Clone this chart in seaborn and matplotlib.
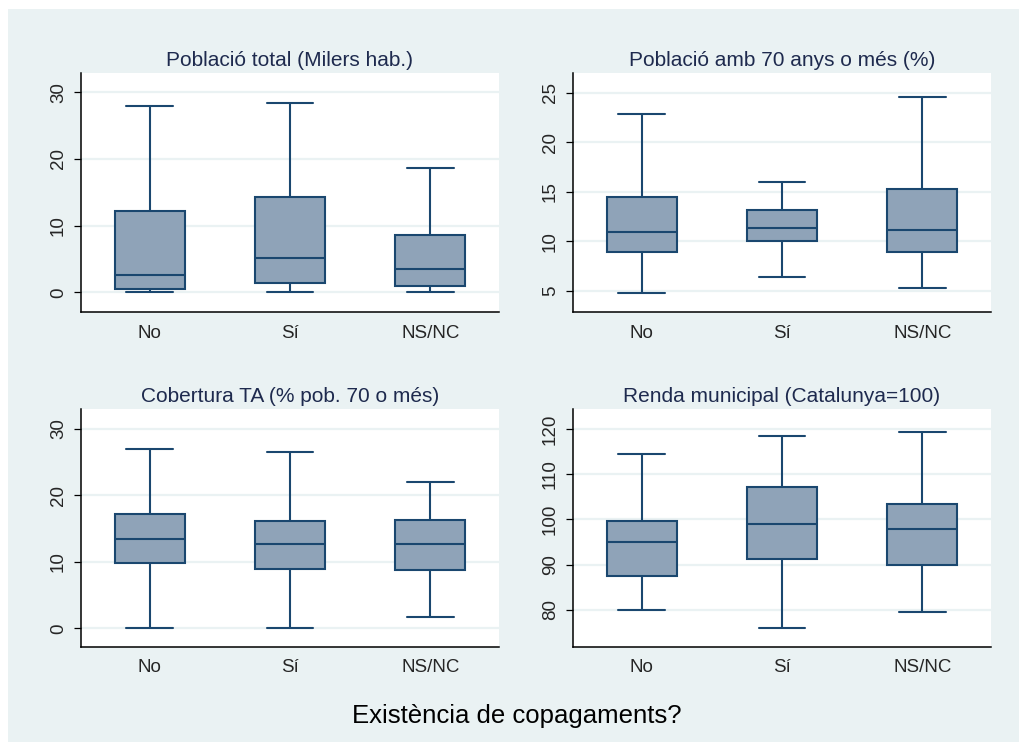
import numpy as np
import pandas as pd
import matplotlib
matplotlib.use("Agg")
import matplotlib.pyplot as plt
import seaborn as sns
from matplotlib.patches import Rectangle

sns.set_style("white")
plt.rcParams['font.family'] = ['Liberation Sans', 'DejaVu Sans']

groups = ["No", "Sí", "NS/NC"]

titles = [
    "Població total (Milers hab.)",
    "Població amb 70 anys o més (%)",
    "Cobertura TA (% pob. 70 o més)",
    "Renda municipal (Catalunya=100)",
]

# five-number summaries per group: [min, q1, median, q3, max]
pob_total = {
    "No":    [0.0, 0.5, 2.55, 12.15, 27.95],
    "Sí":    [0.0, 1.45, 5.15, 14.35, 28.35],
    "NS/NC": [0.0, 1.0, 3.5, 8.6, 18.65],
}
pob_70 = {
    "No":    [4.8, 8.9, 10.95, 14.5, 22.85],
    "Sí":    [6.38, 10.05, 11.33, 13.15, 15.98],
    "NS/NC": [5.25, 8.9, 11.16, 15.3, 24.57],
}
cobertura_ta = {
    "No":    [0.0, 9.78, 13.44, 17.16, 26.94],
    "Sí":    [0.0, 8.97, 12.69, 16.1, 26.49],
    "NS/NC": [1.7, 8.77, 12.69, 16.3, 22.02],
}
renda = {
    "No":    [79.87, 87.4, 94.99, 99.7, 114.5],
    "Sí":    [75.86, 91.27, 99.0, 107.2, 118.5],
    "NS/NC": [79.56, 89.8, 97.8, 103.4, 119.26],
}

yticks = [
    [0, 10, 20, 30],
    [5, 10, 15, 20, 25],
    [0, 10, 20, 30],
    [80, 90, 100, 110, 120],
]
ylims = [(-2.96, 32.9), (2.85, 27.0), (-2.8, 33.0), (71.74, 124.43)]
datasets = [pob_total, pob_70, cobertura_ta, renda]

BG = "#EAF2F3"
EDGE = "#1A476F"
FILL = "#8FA3B8"
TITLE_C = "#1E2A4E"

fig = plt.figure(figsize=(10.2, 7.42), dpi=100)
fig.patch.set_facecolor("white")
fig.patches.append(Rectangle((8 / 1020, -0.01), 1.01 - 8 / 1020, 1.01 - 9 / 742,
                             transform=fig.transFigure, facecolor=BG,
                             edgecolor="none", zorder=-10))

W, H = 1020, 742
boxes = [
    (81, 73, 499, 312),
    (573, 73, 991, 312),
    (81, 409, 499, 647),
    (573, 409, 991, 647),
]

for i, (l, t, r, b) in enumerate(boxes):
    ax = fig.add_axes([l / W, 1 - b / H, (r - l) / W, (b - t) / H])
    ax.set_facecolor("white")
    d = datasets[i]
    rows = []
    for g in groups:
        for v in d[g]:
            rows.append({"grp": g, "val": v})
    df = pd.DataFrame(rows)
    ax.set_yticks(yticks[i])
    ax.yaxis.grid(True, color=BG, linewidth=1.6, zorder=0)
    ax.set_axisbelow(True)
    sns.boxplot(data=df, x="grp", y="val", order=groups, ax=ax,
                whis=np.inf, width=0.5, color=FILL, linecolor=EDGE,
                saturation=1, linewidth=1.5, capwidths=0.333)
    ax.set_xlim(-0.49, 2.49)
    ax.set_ylim(*ylims[i])
    ax.set_yticks(yticks[i])
    ax.set_yticklabels([str(v) for v in yticks[i]], rotation=90, va="center")
    ax.set_xlabel("")
    ax.set_ylabel("")
    ax.set_title(titles[i], fontsize=15, color=TITLE_C, pad=5)
    for s in ["top", "right"]:
        ax.spines[s].set_visible(False)
    for s in ["left", "bottom"]:
        ax.spines[s].set_color("black")
        ax.spines[s].set_linewidth(1.1)
    ax.tick_params(axis="y", length=5, width=0.9, color="black",
                   labelsize=13.5, pad=5, left=True)
    ax.tick_params(axis="x", length=0, labelsize=13.5, pad=9)

fig.text(517 / W, 1 - 716 / H, "Existència de copagaments?", ha="center",
         va="center", fontsize=18.5, color="black")

fig.savefig("out.png", dpi=100)
